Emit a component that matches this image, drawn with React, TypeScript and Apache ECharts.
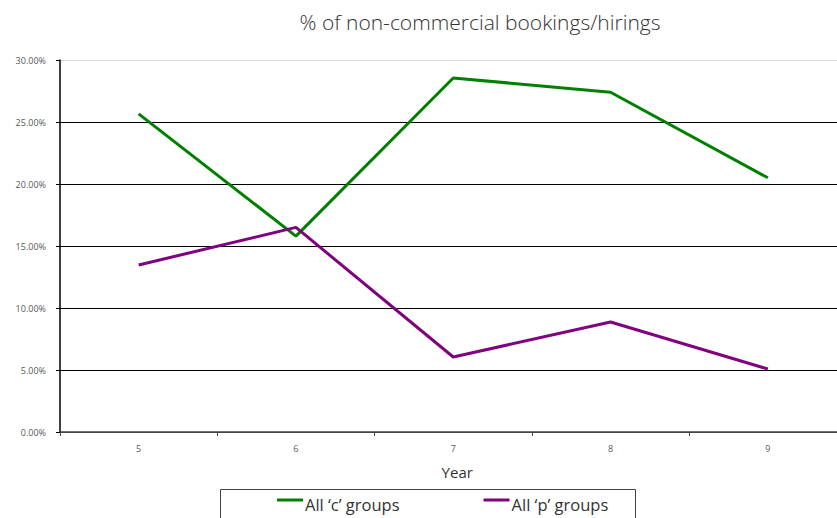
import React, { useEffect, useRef } from "react";
import * as echarts from "echarts";

const years = ["5", "6", "7", "8", "9"];
const cGroups = [25.65, 15.8, 28.55, 27.4, 20.5];
const pGroups = [13.47, 16.5, 6.05, 8.87, 5.08];
const seriesNames = ["All \u2018c\u2019 groups", "All \u2018p\u2019 groups"];
const titleText = "% of non-commercial bookings/hirings";

export default function App() {
  const ref = useRef<HTMLDivElement>(null);
  useEffect(() => {
    document.body.style.margin = "0";
    const chart = echarts.init(ref.current!, null, { renderer: "svg" });
    const font = "'Open Sans', 'Noto Sans', sans-serif";
    chart.setOption({
      animation: false,
      textStyle: { fontFamily: font },
      title: {
        text: titleText,
        left: 475,
        textAlign: "center",
        top: 6,
        textStyle: { fontFamily: font, fontSize: 21, fontWeight: 300, color: "#333" },
      },
      grid: {
        left: 60,
        width: 786.5,
        top: 60,
        height: 372,
        containLabel: false,
        outerBoundsMode: "none",
      },
      legend: {
        left: 277,
        top: 496,
        padding: 0,
        itemWidth: 26,
        itemHeight: 12,
        itemGap: 84,
        icon: "path://M0,0L26,0L26,3L0,3Z M0,11.95L0.05,11.95L0.05,12L0,12Z",
        textStyle: { fontFamily: font, fontSize: 16.5, color: "#333", padding: [0, 0, 0, -3] },
        data: seriesNames,
      },
      graphic: [
        {
          type: "rect",
          shape: { x: 220.5, y: 489.5, width: 415, height: 40 },
          style: { fill: "none", stroke: "#444", lineWidth: 1 },
        },
      ],
      xAxis: {
        type: "category",
        data: years,
        boundaryGap: true,
        name: "Year",
        nameLocation: "middle",
        nameGap: 32,
        nameTextStyle: { fontFamily: font, fontSize: 15, color: "#333", padding: [0, 0, 0, 8] },
        axisLine: { lineStyle: { color: "#444", width: 1.5 } },
        axisTick: { show: true, length: 4, lineStyle: { color: "#444" } },
        axisLabel: { fontSize: 9, color: "#595959", margin: 12 },
      },
      yAxis: {
        type: "value",
        min: 0,
        max: 30,
        interval: 5,
        axisLine: { show: true, lineStyle: { color: "#000", width: 1.5 } },
        axisTick: { show: true, length: 4, lineStyle: { color: "#000" } },
        axisLabel: {
          fontSize: 9,
          color: "#595959",
          margin: 14,
          formatter: (v: number) => v.toFixed(2) + "%",
        },
        splitLine: {
          show: true,
          lineStyle: { color: ["#444", "#000", "#000", "#000", "#000", "#000", "#ddd"], width: 1 },
        },
      },
      series: [
        {
          name: seriesNames[0],
          type: "line",
          data: cGroups,
          symbol: "none",
          lineStyle: { color: "#008000", width: 3 },
          itemStyle: { color: "#008000" },
        },
        {
          name: seriesNames[1],
          type: "line",
          data: pGroups,
          symbol: "none",
          lineStyle: { color: "#800080", width: 3 },
          itemStyle: { color: "#800080" },
        },
      ],
    });
    return () => chart.dispose();
  }, []);
  return <div ref={ref} style={{ width: 837, height: 518 }} />;
}
